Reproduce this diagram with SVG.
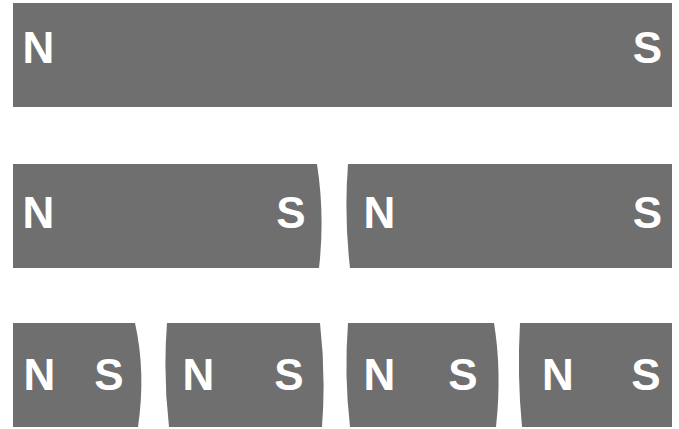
<svg xmlns="http://www.w3.org/2000/svg" width="679" height="429" viewBox="0 0 679 429">
<style>
.bar{fill:#6f6f6f}
.lbl{font-family:"Liberation Sans",Arial,sans-serif;font-weight:bold;font-size:44px;fill:#ffffff;text-anchor:middle}
</style>
<rect width="679" height="429" fill="#ffffff"/>
<g id="magnet-whole">
<rect class="bar" x="13" y="3" width="659" height="104"/>
<text class="lbl" x="38.5" y="63">N</text>
<text class="lbl" x="647.5" y="63">S</text>
</g>
<g id="half-left">
<path class="bar" d="M13,164 L317,164 Q325,216 319,268 L13,268 Z"/>
<text class="lbl" x="38.5" y="228">N</text>
<text class="lbl" x="291" y="228">S</text>
</g>
<g id="half-right">
<path class="bar" d="M348,164 L672,164 L672,268 L350,268 Q344,216 348,164 Z"/>
<text class="lbl" x="379.5" y="228">N</text>
<text class="lbl" x="647.5" y="228">S</text>
</g>
<g id="quarter-1">
<path class="bar" d="M13,323 L135,323 Q146,372 138,427 L13,427 Z"/>
<text class="lbl" x="39.5" y="390">N</text>
<text class="lbl" x="109" y="390">S</text>
</g>
<g id="quarter-2">
<path class="bar" d="M167,323 L320,323 Q326,375 322,427 L169,427 Q163,375 167,323 Z"/>
<text class="lbl" x="198.5" y="390">N</text>
<text class="lbl" x="289" y="390">S</text>
</g>
<g id="quarter-3">
<path class="bar" d="M348,323 L494,323 Q502,372 496,427 L350,427 Q344,375 348,323 Z"/>
<text class="lbl" x="379.5" y="390">N</text>
<text class="lbl" x="463" y="390">S</text>
</g>
<g id="quarter-4">
<path class="bar" d="M520,323 L672,323 L672,427 L522,427 Q517,375 520,323 Z"/>
<text class="lbl" x="558" y="390">N</text>
<text class="lbl" x="646" y="390">S</text>
</g>
<g id="connectors"/>
</svg>
